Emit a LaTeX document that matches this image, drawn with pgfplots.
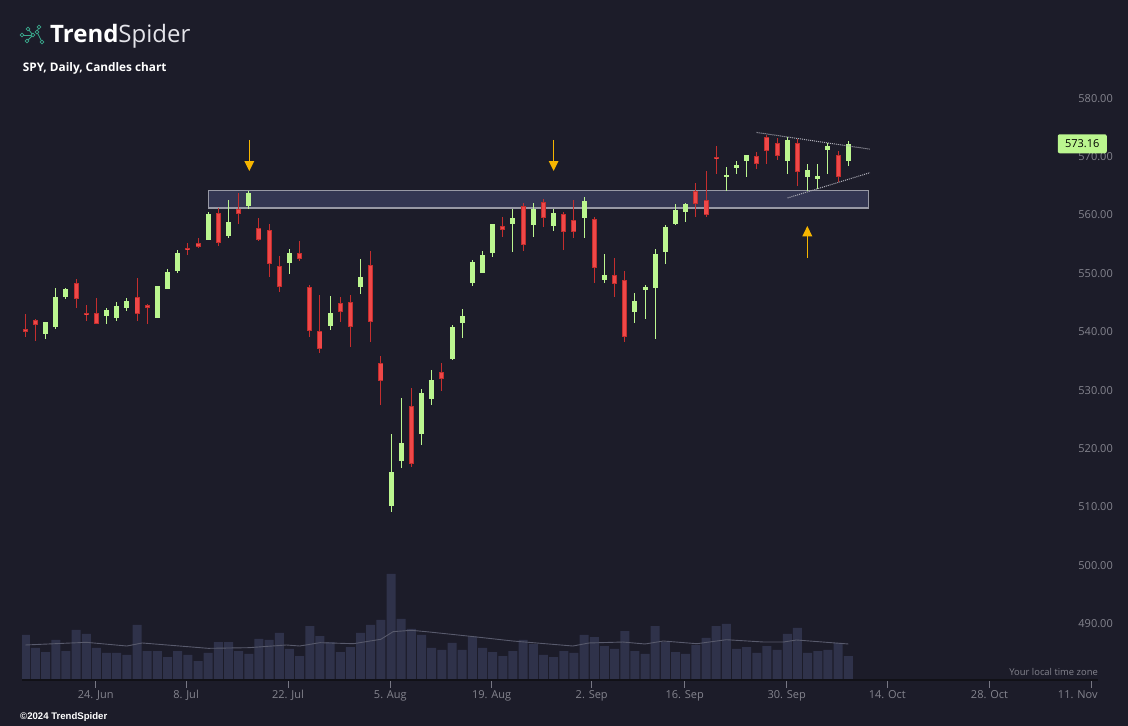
\documentclass[border=0pt]{standalone}
\usepackage{pgfplots}
\pgfplotsset{compat=1.18}
\usepackage{pgfplotstable}
\usepackage{fontspec}
\setmainfont{Open Sans}
\newfontfamily\arialf{Liberation Sans}
\definecolor{bgc}{RGB}{28,28,41}
\definecolor{volc}{RGB}{47,50,74}
\definecolor{mac}{RGB}{88,90,108}
\definecolor{gc}{RGB}{187,246,143}
\definecolor{rc}{RGB}{239,72,72}
\definecolor{rdark}{RGB}{196,46,46}
\definecolor{zonef}{RGB}{51,54,82}
\definecolor{zoneb}{RGB}{152,153,165}
\definecolor{axlc}{RGB}{17,17,23}
\definecolor{tickc}{RGB}{120,120,132}
\definecolor{labc}{RGB}{132,132,142}
\definecolor{arrc}{RGB}{246,181,0}
\definecolor{dotc}{RGB}{175,175,185}
\definecolor{teal}{RGB}{58,168,140}

\pgfplotstableread{
x o h l c
2 540.69 542.68 539.83 542.68
3 541.83 548.56 541.54 546.97
4 547.02 548.56 546.68 548.34
8 543.71 545.08 542.40 544.74
9 543.43 546.11 542.91 545.42
10 545.08 546.79 544.63 546.28
13 543.43 548.85 543.43 548.85
14 548.39 551.76 548.39 551.25
15 551.47 555.01 551.13 554.50
18 556.78 561.52 556.72 561.18
20 557.41 563.57 557.12 559.81
22 562.55 565.11 562.09 564.77
26 552.84 555.18 550.96 554.50
30 542.06 547.14 541.31 544.22
33 548.73 553.47 547.53 550.39
36 511.24 523.51 510.21 517.00
37 518.94 529.68 517.75 521.97
39 523.57 531.22 521.68 530.53
40 529.56 534.47 528.53 532.76
42 536.41 542.18 536.24 541.83
43 542.57 544.91 540.01 543.72
44 549.42 553.31 548.91 552.96
45 551.13 554.84 551.07 554.15
46 554.50 559.46 553.87 559.46
48 559.52 562.09 554.72 560.49
50 559.35 563.06 557.29 562.03
52 559.18 562.09 558.32 561.35
55 560.55 564.09 557.12 563.40
57 549.87 554.32 549.42 550.73
60 544.45 547.70 542.57 546.28
61 548.22 549.02 543.25 548.67
62 548.56 555.18 539.83 554.32
63 554.72 559.29 552.67 558.95
64 559.53 562.89 559.35 561.87
65 561.58 563.06 559.87 562.89
69 567.57 569.23 565.18 567.86
70 569.11 570.26 568.03 569.57
71 570.31 571.28 567.57 571.28
75 570.31 574.37 568.09 573.85
77 567.57 569.74 565.12 568.71
78 567.23 569.74 565.46 567.69
79 572.20 573.34 568.09 572.82
81 570.31 573.68 569.46 573.17
}\greentab

\pgfplotstableread{
x o h l c
0 541.49 544.05 540.17 541.03
1 543.03 543.14 539.49 542.23
5 549.31 550.05 545.14 546.68
6 544.23 545.60 542.91 543.88
7 544.23 546.79 542.40 542.40
11 546.97 550.28 542.91 544.11
12 545.60 545.77 542.40 545.14
16 555.36 556.21 554.21 555.07
17 556.21 557.07 555.41 555.58
19 561.35 562.20 555.75 556.27
21 562.03 564.77 559.46 561.23
23 558.78 560.49 556.55 556.78
24 558.44 559.46 550.45 552.67
25 552.27 553.98 547.88 548.73
27 554.50 556.55 553.19 553.53
28 548.68 549.02 540.17 541.09
29 541.14 547.31 537.43 538.12
31 545.94 546.96 542.74 544.45
32 546.11 547.31 538.46 541.88
34 552.44 554.84 539.32 542.74
35 535.67 536.87 528.53 532.64
38 528.31 531.39 517.92 518.43
41 534.13 535.67 530.93 532.99
47 559.12 560.66 557.29 558.49
49 562.54 563.06 554.90 555.92
51 563.23 563.74 559.01 560.55
53 561.17 561.52 555.07 558.15
54 560.15 563.63 557.12 558.15
56 560.32 560.66 549.42 551.98
58 550.73 553.64 547.02 549.25
59 549.87 551.41 539.31 540.17
66 565.12 566.49 560.72 562.95
67 563.58 568.54 560.72 561.07
68 570.94 572.82 568.03 570.66
72 571.11 571.80 568.94 569.80
73 574.37 574.71 569.80 572.03
74 573.34 574.19 570.48 571.17
76 573.34 574.02 565.97 568.43
80 571.28 571.97 566.72 567.57
}\redtab

\pgfplotstableread{
x v
0 62.1
1 44.2
2 38.6
3 55.2
4 40.0
5 69.0
6 63.5
7 44.2
8 37.3
9 37.3
10 34.5
11 75.9
12 40.0
13 40.0
14 31.7
15 40.0
16 34.5
17 26.2
18 37.3
19 52.4
20 52.4
21 40.0
22 35.9
23 56.6
24 55.2
25 64.9
26 42.8
27 33.1
28 74.5
29 60.7
30 52.4
31 38.6
32 45.5
33 64.9
34 75.9
35 82.8
36 146.3
37 84.2
38 70.4
39 62.1
40 44.2
41 41.4
42 51.1
43 41.4
44 60.3
45 44.2
46 38.6
47 33.1
48 40.0
49 55.2
50 49.7
51 34.5
52 31.7
53 40.0
54 37.3
55 62.1
56 59.3
57 46.9
58 42.8
59 67.6
60 40.0
61 35.9
62 74.5
63 52.4
64 38.6
65 35.9
66 48.3
67 58.0
68 74.5
69 77.3
70 42.8
71 45.5
72 37.3
73 46.9
74 41.4
75 63.5
76 71.8
77 37.3
78 40.0
79 41.4
80 51.1
81 33.1
}\voltab

\begin{document}
\begin{tikzpicture}
\fill[bgc, use as bounding box] (0,0) rectangle (1128pt,726pt);

% logo
\begin{scope}[teal, line width=0.8pt]
\draw (33pt,691pt) -- (22pt,691pt);
\draw (33pt,691pt) -- (28pt,697pt);
\draw (33pt,691pt) -- (27pt,685pt);
\draw (37pt,694pt) -- (39pt,699pt);
\draw (37pt,694pt) -- (42pt,684pt);
\foreach \p in {(22pt,691pt),(28pt,697pt),(39pt,699pt),(33pt,691pt),(27pt,685pt),(42pt,684pt),(37pt,694pt)}
  \draw[fill=bgc] \p circle (1.9pt);
\end{scope}
\node[anchor=base west, inner sep=0pt, text=white] at (50pt,683.7pt)
  {\fontsize{24}{26}\selectfont\bfseries Trend\mdseries\color[RGB]{228,228,234}Spider};
\node[anchor=base west, inner sep=0pt, text=white] at (22.7pt,654.3pt)
  {\fontsize{11.8}{13}\selectfont\bfseries SPY, Daily, Candles chart};
\node[anchor=base west, inner sep=0pt, text=white] at (20pt,6pt)
  {\arialf\fontsize{9.6}{10}\selectfont\bfseries \char"00A9 2024 TrendSpider};
\node[anchor=base east, inner sep=0pt, text=labc] at (1098pt,50.7pt)
  {\fontsize{9.4}{10}\selectfont Your local time zone};

% volume
\begin{axis}[at={(22pt,46pt)}, anchor=south west, scale only axis,
  width=1076pt, height=680pt,
  xmin=-0.325, xmax=105.58, ymin=0, ymax=938.4, hide axis]
\addplot[ybar, bar width=9pt, fill=volc, draw=none] table[x=x,y=v]{\voltab};
\addplot[color=mac, line width=0.9pt, mark=none] coordinates {
(0,48.3)(6,52.0)(10,46.9)(11.5,51.1)(18,43.7)(22,44.6)(25.7,48.3)(27,46.9)
(29,51.5)(32.3,50.1)(35,56.2)(36.2,66.7)(38,68.6)(39.8,66.2)(43.8,60.3)
(48,53.8)(53.9,46.9)(55.5,51.1)(58.8,52.4)(61,49.7)(62.8,53.8)(66.1,50.1)
(69,55.6)(72.7,52.4)(74.6,52.4)(75.9,55.2)(81,49.7)};
\end{axis}

% price
\begin{axis}[at={(22pt,46pt)}, anchor=south west, scale only axis,
  width=1076pt, height=680pt,
  xmin=-0.325, xmax=105.58, ymin=481.38, ymax=597.82,
  clip=false,
  axis x line=bottom, axis y line=right,
  axis line style={-},
  x axis line style={draw=axlc, line width=2.3pt},
  y axis line style={draw=none},
  tick align=outside, major tick length=8pt,
  xtick={6.93,15.82,25.86,35.93,45.9,55.75,64.9,74.94,84.84,94.9,104.9},
  xticklabels={24. Jun,8. Jul,22. Jul,5. Aug,19. Aug,2. Sep,16. Sep,30. Sep,14. Oct,28. Oct,{\makebox[0pt][r]{11. Nov\hspace*{-6.4pt}}}},
  xtick style={draw=tickc, line width=1pt},
  ytick style={draw=none},
  ytick={490,500,...,580},
  yticklabels={490.00,500.00,510.00,520.00,530.00,540.00,550.00,560.00,570.00,580.00},
  ticklabel style={font=\fontsize{11}{13}\selectfont, text=labc, inner sep=0pt},
  yticklabel style={anchor=east, xshift=7pt, yshift=5.8pt},
  xticklabel style={anchor=north, yshift=-2pt},
  candle/.style={draw=none, mark=none, forget plot},
]
% zone
\draw[fill=zonef, draw=zoneb, line width=1.3pt] (axis cs:18.01,565.17) rectangle (axis cs:83.01,562.21);

% green candles
\addplot[candle,
  error bars/.cd, y dir=both, y explicit, error mark=none,
  error bar style={draw=gc, line width=1pt, solid}]
  table[x=x, y expr={(\thisrow{h}+\thisrow{l})/2}, y error expr={(\thisrow{h}-\thisrow{l})/2}]{\greentab};
\addplot[candle,
  error bars/.cd, y dir=both, y explicit, error mark=none,
  error bar style={draw=gc, line width=5pt, solid}]
  table[x=x, y expr={(\thisrow{o}+\thisrow{c})/2}, y error expr={max(abs(\thisrow{c}-\thisrow{o})/2,0.09)}]{\greentab};
% red candles
\addplot[candle,
  error bars/.cd, y dir=both, y explicit, error mark=none,
  error bar style={draw=rdark, line width=1pt, solid}]
  table[x=x, y expr={(\thisrow{h}+\thisrow{l})/2}, y error expr={(\thisrow{h}-\thisrow{l})/2}]{\redtab};
\addplot[candle,
  error bars/.cd, y dir=both, y explicit, error mark=none,
  error bar style={draw=rdark, line width=5pt, solid}]
  table[x=x, y expr={(\thisrow{o}+\thisrow{c})/2}, y error expr={max(abs(\thisrow{c}-\thisrow{o})/2,0.09)}]{\redtab};
\addplot[candle,
  error bars/.cd, y dir=both, y explicit, error mark=none,
  error bar style={draw=rc, line width=3.2pt, solid}]
  table[x=x, y expr={(\thisrow{o}+\thisrow{c})/2}, y error expr={max(abs(\thisrow{c}-\thisrow{o})/2-0.15,0.02)}]{\redtab};

% triangle lines
\addplot[dotc, line width=1pt, dash pattern=on 1pt off 1pt, mark=none] coordinates {(71.98,575.14)(83.13,572.28)};
\addplot[dotc, line width=1pt, dash pattern=on 1pt off 1pt, mark=none] coordinates {(75.03,563.92)(83.13,568.25)};

% arrows
\draw[arrc, line width=1pt] (axis cs:22.05,573.85) -- (axis cs:22.05,570.1);
\fill[arrc] (axis cs:21.56,570.25) -- (axis cs:22.54,570.25) -- (axis cs:22.05,568.54) -- cycle;
\draw[arrc, line width=1pt] (axis cs:52.0,573.85) -- (axis cs:52.0,570.1);
\fill[arrc] (axis cs:51.51,570.25) -- (axis cs:52.49,570.25) -- (axis cs:52.0,568.54) -- cycle;
\draw[arrc, line width=1pt] (axis cs:76.97,553.70) -- (axis cs:76.97,557.5);
\fill[arrc] (axis cs:76.48,557.36) -- (axis cs:77.46,557.36) -- (axis cs:76.97,559.12) -- cycle;

% last price box
\node[fill=gc, rounded corners=2pt, minimum width=49pt, minimum height=19pt, inner sep=0pt,
  text=black, font=\fontsize{11}{13}\selectfont] at (axis cs:104.03,573.2) {573.16};
\end{axis}
\end{tikzpicture}
\end{document}
